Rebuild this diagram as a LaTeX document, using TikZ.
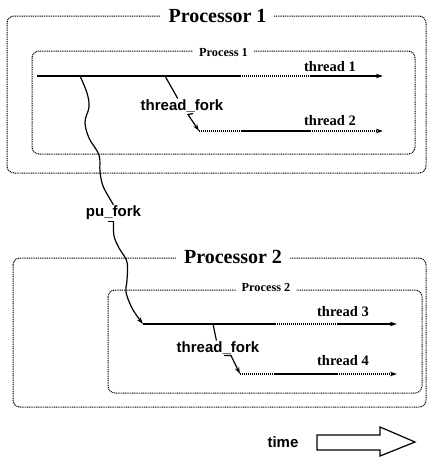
\documentclass[tikz,border=0pt]{standalone}
\usepackage{fontspec}
\setmainfont{Liberation Serif}
\setsansfont{Liberation Sans}
\usetikzlibrary{arrows.meta}

\begin{document}
\begin{tikzpicture}[x=1pt,y=-1pt,>={Stealth[length=7pt,width=4.5pt]},
    box/.style={line width=1pt,dash pattern=on 1pt off 0.8pt,rounded corners=7pt},
    bigtitle/.style={fill=white,inner xsep=8pt,inner ysep=1pt,font=\fontsize{20}{22}\selectfont\bfseries},
    smalltitle/.style={fill=white,inner xsep=6pt,inner ysep=1pt,font=\fontsize{12.3}{14}\selectfont\bfseries},
    tlabel/.style={inner sep=1pt,font=\fontsize{14.5}{16}\selectfont\bfseries},
    flabel/.style={inner sep=1pt,font=\fontsize{15}{17}\selectfont\sffamily\bfseries},
    run/.style={line width=1.8pt},
    idle/.style={line width=1.1pt,dash pattern=on 1.2pt off 0.8pt},
    fork/.style={line width=1.2pt}]
        \useasboundingbox (0,0) rectangle (428,459);
        % processors and processes
        \draw[box] (7,16) rectangle (426,173);
        \draw[box] (32,51) rectangle (415,154);
        \draw[box] (13,258) rectangle (426,407);
        \draw[box] (108,290) rectangle (422,393);
        \node[bigtitle] (proc1) at (217.5,16) {Processor 1};
        \node[smalltitle] (pr1) at (223.5,52) {Process 1};
        \node[bigtitle] (proc2) at (233,257) {Processor 2};
        \node[smalltitle] (pr2) at (266,287) {Process 2};
        % thread points
        \coordinate (t1s) at (37,76);  \coordinate (t1a) at (240,76);
        \coordinate (t1b) at (310,76); \coordinate (t1e) at (383,76);
        \coordinate (t2s) at (199,131); \coordinate (t2a) at (242,131);
        \coordinate (t2b) at (310,131); \coordinate (t2e) at (383,131);
        \coordinate (t3s) at (143,324); \coordinate (t3a) at (275,324);
        \coordinate (t3b) at (337,324); \coordinate (t3e) at (397,324);
        \coordinate (t4s) at (240,374); \coordinate (t4a) at (275,374);
        \coordinate (t4b) at (337,374); \coordinate (t4e) at (397,374);
        \coordinate (pu1) at (80,76);
        \coordinate (f1) at (165,76);
        \coordinate (f2) at (213,324);
        % threads
        \draw[run] (t1s)--(t1a);  \draw[idle] (t1a)--(t1b);  \draw[run,->] (t1b)--(t1e);
        \draw[idle] (t2s)--(t2a); \draw[run] (t2a)--(t2b);   \draw[idle,->] (t2b)--(t2e);
        \draw[run] (t3s)--(t3a);  \draw[idle] (t3a)--(t3b);  \draw[run,->] (t3b)--(t3e);
        \draw[idle] (t4s)--(t4a); \draw[run] (t4a)--(t4b);   \draw[idle,->] (t4b)--(t4e);
        \node[tlabel] (th1) at (330,67) {thread 1};
        \node[tlabel] (th2) at (330,121) {thread 2};
        \node[tlabel] (th3) at (343,312) {thread 3};
        \node[tlabel] (th4) at (343,361) {thread 4};
        % forks
        \node[flabel] (tf1) at (182,106) {thread\_fork};
        \node[flabel] (tf2) at (218,348) {thread\_fork};
        \node[flabel] (pf) at (113.5,213) {pu\_fork};
        \draw[fork] (f1)--(tf1);
        \draw[fork,->] ([xshift=11pt]tf1.south)--++(-5,1)--(t2s);
        \draw[fork] (f2)--(tf2);
        \draw[fork,->] ([xshift=6pt]tf2.south)--++(7,0)--(t4s);
        \draw[fork] plot[smooth,tension=0.6] coordinates {(pu1) (87,93) (89,107) (85,122) (89,138) (99,155) (100,172) (103,186) (110,199) (pf.north)};
        \draw[fork] ([xshift=-6pt]pf.south)--(pf.south);
        \draw[fork,->] plot[smooth,tension=0.6] coordinates {(pf.south) (114,236) (119,248) (127,262) (127,280) (126,292) (131,306) (137,316) (t3s)};
        % time
        \node[flabel] (time) at (283,442) {time};
        \draw[line width=1.2pt,line join=miter] (317,435)--(380,435)--(380,427)--(415,442)--(380,456)--(380,450)--(317,450)--cycle;
      \end{tikzpicture}
\end{document}
